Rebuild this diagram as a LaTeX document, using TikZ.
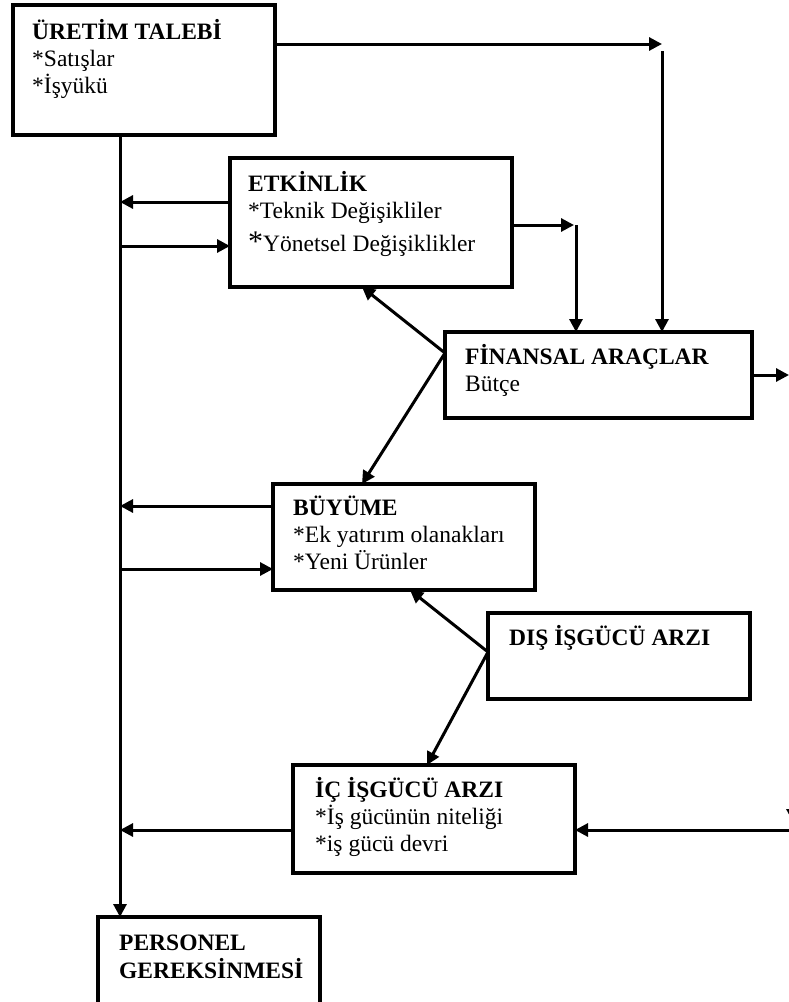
\documentclass[tikz,border=0pt]{standalone}
\usepackage{fontspec}
\setmainfont{Liberation Serif}
\usetikzlibrary{arrows.meta,calc}
\begin{document}
\begin{tikzpicture}[x=1pt,y=-1pt,
  box/.style={draw, line width=3.2pt, inner sep=0pt, outer sep=0pt, anchor=north west},
  txt/.style={anchor=base west, inner sep=0pt, font=\fontsize{23.5}{27}\selectfont},
  link/.style={line width=3pt, -{Triangle[length=13pt,width=13pt]}}]
\useasboundingbox (0,0) rectangle (789,1002);

% boxes
\node[box, minimum width=262pt, minimum height=130pt] (ure) at (13,5) {};
\node[box, minimum width=282pt, minimum height=129pt] (etk) at (230,158) {};
\node[box, minimum width=307pt, minimum height=86pt]  (fin) at (445,332) {};
\node[box, minimum width=262pt, minimum height=106pt] (buy) at (273,484) {};
\node[box, minimum width=262pt, minimum height=86pt]  (dis) at (488,613) {};
\node[box, minimum width=282pt, minimum height=108pt] (ic)  at (293,765) {};
\node[box, minimum width=222pt, minimum height=100pt] (per) at (98,917) {};

% box texts
\node[txt] (ureT) at (32,39) {\begin{tabular}[t]{@{}l@{}}\textbf{ÜRETİM TALEBİ}\\{*}Satışlar\\{*}İşyükü\end{tabular}};
\node[txt] (etkT) at (248,191) {\begin{tabular}[t]{@{}l@{}}\textbf{ETKİNLİK}\\{*}Teknik Değişikliler\\[6pt]{\fontsize{30}{30}\selectfont *}Yönetsel Değişiklikler\end{tabular}};
\node[txt] (finT) at (465,364) {\begin{tabular}[t]{@{}l@{}}\textbf{FİNANSAL ARAÇLAR}\\Bütçe\end{tabular}};
\node[txt] (buyT) at (293,515) {\begin{tabular}[t]{@{}l@{}}\textbf{BÜYÜME}\\{*}Ek yatırım olanakları\\{*}Yeni Ürünler\end{tabular}};
\node[txt] (disT) at (509,645) {\textbf{DIŞ İŞGÜCÜ ARZI}};
\node[txt] (icT) at (315,797) {\begin{tabular}[t]{@{}l@{}}\textbf{İÇ İŞGÜCÜ ARZI}\\{*}İş gücünün niteliği\\{*}iş gücü devri\end{tabular}};
\node[txt] (perT) at (119,950) {\begin{tabular}[t]{@{}l@{}}\textbf{PERSONEL}\\\textbf{GEREKSİNMESİ}\end{tabular}};

% main vertical trunk
\coordinate (tx) at (120,0);
\draw[link] (ure.south -| tx) -- (per.north -| tx);

% top route to the financial box
\coordinate (cA) at (662,44);
\coordinate (cB) at (662,51);
\draw[link] (ure.east |- cA) -- (cA);
\draw[link] (cB) -- (fin.north -| cB);

% efficiency to the financial box
\coordinate (cC) at (574,225);
\coordinate (cC2) at (576,225);
\draw[link] (etk.east |- cC) -- (cC);
\draw[link] (cC2) -- (fin.north -| cC2);

% financial box outwards
\coordinate (cD) at (789,375);
\draw[link] (fin.east) -- (cD);

% efficiency and trunk
\coordinate (e1) at ([yshift=20.5pt]etk.west);
\coordinate (e2) at ([yshift=-23.5pt]etk.west);
\draw[link] (e1) -- (e1 -| tx);
\draw[link] (e2 -| tx) -- (e2);

% financial box feeds efficiency and growth
\coordinate (f1) at ([yshift=22pt]fin.west);
\draw[link] (f1) -- ([xshift=-9pt]etk.south);
\draw[link] (f1) -- ([xshift=-42pt]buy.north);

% growth and trunk
\coordinate (b1) at ([yshift=31pt]buy.west);
\coordinate (b2) at ([yshift=-32pt]buy.west);
\draw[link] (b1) -- (b1 -| tx);
\draw[link] (b2 -| tx) -- (b2);

% external labour supply
\coordinate (d1) at ([yshift=4pt]dis.west);
\draw[link] (d1) -- ([xshift=6pt]buy.south);
\draw[link] (d1) -- ([xshift=-7pt]ic.north);

% internal labour supply
\coordinate (cF) at (789,830);
\draw[link] (cF) -- (ic.east |- cF);
\draw[link] (ic.west |- cF) -- (tx |- cF);

% incoming arrow at the right margin
\coordinate (cG) at (793,806);
\draw[link] (cG) -- ++(0,16);
\end{tikzpicture}
\end{document}
